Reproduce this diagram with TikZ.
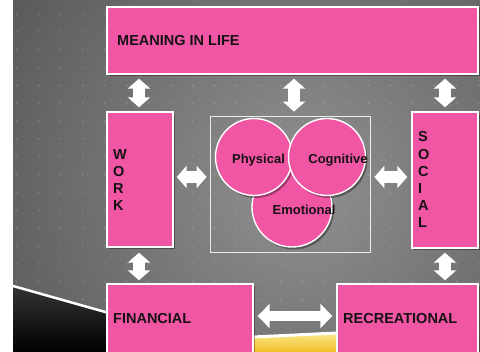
\documentclass[tikz,border=0pt]{standalone}
\usepackage{fontspec}
\setmainfont{Liberation Sans}
\usetikzlibrary{arrows.meta,shadows,calc}
\definecolor{pinkbox}{RGB}{241,86,165}
\definecolor{txtc}{RGB}{22,18,20}
\definecolor{bgin}{RGB}{145,145,145}
\definecolor{bgout}{RGB}{52,52,52}
\definecolor{yelA}{RGB}{250,230,130}
\definecolor{yelB}{RGB}{240,190,40}
\begin{document}
\begin{tikzpicture}[x=1pt,y=-1pt,
  box/.style={rectangle,fill=pinkbox,draw=white,line width=1.4pt,inner sep=0pt,
    drop shadow={shadow xshift=2pt,shadow yshift=-2.5pt,opacity=0.35,fill=black}},
  ball/.style={circle,fill=pinkbox,draw=white,line width=1.4pt,inner sep=0pt,
    drop shadow={shadow xshift=2pt,shadow yshift=-2.5pt,opacity=0.35,fill=black}},
  frame/.style={rectangle,draw=white!85!gray,line width=0.8pt,inner sep=0pt},
  bigarrow/.style={line width=12pt,white,
    {Triangle[width=22pt,length=10pt]}-{Triangle[width=22pt,length=10pt]}},
  longarrow/.style={line width=10pt,white,
    {Triangle[width=24pt,length=12pt]}-{Triangle[width=24pt,length=12pt]}},
  lbl/.style={font=\bfseries\fontsize{14.5}{16}\selectfont,text=txtc,inner sep=0pt,anchor=base west},
  clbl/.style={font=\bfseries\fontsize{13}{15}\selectfont,text=txtc,inner sep=0pt,anchor=base},
  dot/.style={fill=white,opacity=0.13}
]
\useasboundingbox (0,0) rectangle (480,352);
\fill[white] (0,0) rectangle (480,352);
\begin{scope}
  \clip (13,0) rectangle (480,352);
  \shade[inner color=bgin,outer color=bgout] (300,185) circle (580);
  \foreach \i in {0,...,21}{
    \foreach \j in {0,...,19}{
      \fill[dot] ({16.7+22*\i},{14+17.85*\j}) circle (1.2);
    }
  }
  \shade[top color=black!80,bottom color=black] (13,287) -- (107,313) -- (107,352) -- (13,352) -- cycle;
  \draw[white,line width=2.5pt] (13,286) -- (107,312.5);
  \shade[top color=yelA,bottom color=yelB] (253,338) -- (337,334) -- (337,352) -- (253,352) -- cycle;
  \draw[white,line width=3pt] (253,337) -- (337,333);
\end{scope}

% boxes
\node[box,minimum width=371pt,minimum height=67pt] (meaning) at (292.5,40.5) {};
\node[box,minimum width=66pt,minimum height=135pt] (work) at (140,179.5) {};
\node[box,minimum width=66pt,minimum height=136pt] (social) at (445,180) {};
\node[box,minimum width=146pt,minimum height=70pt] (financial) at (180,319) {};
\node[box,minimum width=141pt,minimum height=70pt] (recreational) at (407.5,319) {};
\node[frame,minimum width=160pt,minimum height=136pt] (inner) at (290,184) {};

% circles
\node[ball,minimum size=80pt] (emotional) at (292,207) {};
\node[ball,minimum size=77pt] (physical) at (254,157) {};
\node[ball,minimum size=77pt] (cognitive) at (327,157) {};

% labels
\node[lbl] (tmeaning) at (117,46) {MEANING IN LIFE};
\node[lbl] (tfinancial) at (113,323.5) {FINANCIAL};
\node[lbl] (trecreational) at (343,323.5) {RECREATIONAL};
\node[lbl] (tw) at (113,160) {W};
\node[lbl] (to) at (113,177) {O};
\node[lbl] (tr) at (113,194) {R};
\node[lbl] (tk) at (113,211) {K};
\node[lbl] (ts) at (418,142) {S};
\node[lbl] (tso) at (418,159.2) {O};
\node[lbl] (tc) at (418,176.4) {C};
\node[lbl] (ti) at (418,193.6) {I};
\node[lbl] (ta) at (418,210.8) {A};
\node[lbl] (tl) at (418,228) {L};
\node[clbl] (tphys) at (258.5,164) {Physical};
\node[clbl] (tcog) at (338,164) {Cognitive};
\node[clbl] (temo) at (304,215) {Emotional};

% arrows
\draw[bigarrow] ($(work.north |- meaning.south)+(-1,4)$) -- ($(work.north)+(-1,-4)$);
\draw[bigarrow] ($(inner.north |- meaning.south)+(4,4)$) -- ($(inner.north)+(4,-4)$);
\draw[bigarrow] ($(social.north |- meaning.south)+(0,4)$) -- ($(social.north)+(0,-4)$);
\draw[bigarrow] ($(work.east)+(3,-2.5)$) -- ($(work.east -| inner.west)+(-3,-2.5)$);
\draw[bigarrow] ($(social.west -| inner.east)+(4,-3)$) -- ($(social.west)+(-4,-3)$);
\draw[bigarrow] ($(work.south)+(-1,5)$) -- ($(work.south |- financial.north)+(-1,-3)$);
\draw[bigarrow] ($(social.south)+(0,4)$) -- ($(social.south |- recreational.north)+(0,-3)$);
\draw[longarrow] ($(financial.east)+(4,-3)$) -- ($(recreational.west)+(-4,-3)$);
\end{tikzpicture}
\end{document}
